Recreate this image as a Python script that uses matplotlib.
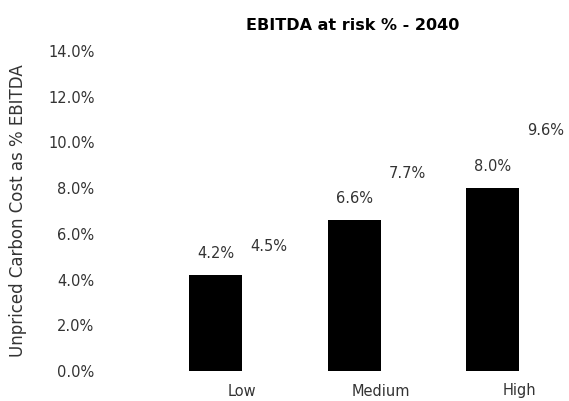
import matplotlib.pyplot as plt
import numpy as np

categories = ["Low", "Medium", "High"]
ebitda_at_risk = [4.2, 6.6, 8.0]
ebitda_at_risk_alt = [4.5, 7.7, 9.6]
y_ticks = [0, 2, 4, 6, 8, 10, 12, 14]

plt.rcParams['font.family'] = ['DejaVu Sans']

fig = plt.figure(figsize=(5.69, 4.01), dpi=100)
# axes box in pixels: left 100, right 569, bottom at 0% line, top at 14% line
ax = fig.add_axes([100 / 569, 30 / 401, 469 / 569, 320 / 401])

x = np.arange(len(categories))
w = 0.38
bars = ax.bar(x - w / 2, ebitda_at_risk, width=w, color='black')
ghost = ax.bar(x + w / 2, ebitda_at_risk_alt, width=w, color='none')

txt = '#333333'
ax.bar_label(bars, labels=[f"{v:.1f}%" for v in ebitda_at_risk],
             padding=10, fontsize=10.5, color=txt)
ax.bar_label(ghost, labels=[f"{v:.1f}%" for v in ebitda_at_risk_alt],
             padding=10, fontsize=10.5, color=txt)

ax.set_xlim(-1.025, 2.36)
ax.set_ylim(0, 14)
ax.set_yticks(y_ticks)
ax.set_yticklabels([f"{t:.1f}%" for t in y_ticks], fontsize=10.5, color=txt)
ax.set_xticks(x)
ax.set_xticklabels(categories, fontsize=10.5, color=txt)
ax.tick_params(length=0)
ax.tick_params(axis='y', pad=4)
ax.tick_params(axis='x', pad=9)
for s in ax.spines.values():
    s.set_visible(False)

ax.set_ylabel("Unpriced Carbon Cost as % EBITDA", fontsize=12, color=txt)
ax.yaxis.set_label_coords(-0.155, 0.5)

fig.text(353 / 569, 1 - 25 / 401, "EBITDA at risk % - 2040", ha='center', va='center',
         fontsize=11.5, fontweight='bold')

fig.savefig("out.png", dpi=100)
